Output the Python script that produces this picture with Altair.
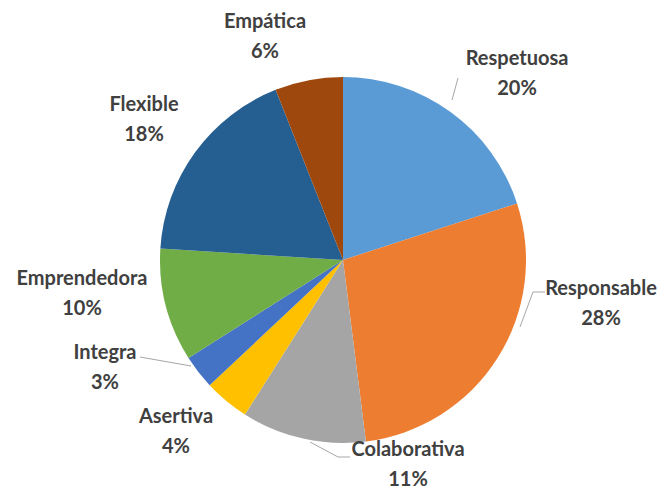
import altair as alt
import pandas as pd

# ---- data ----
categories = ["Respetuosa", "Responsable", "Colaborativa", "Asertiva",
              "Integra", "Emprendedora", "Flexible", "Empática"]
values = [20, 28, 11, 4, 3, 10, 18, 6]
colors = ["#5B9BD5", "#ED7D31", "#A5A5A5", "#FFC000",
          "#4472C4", "#70AD47", "#255E91", "#9E480E"]

# ---- layout (pixel offsets from the pie centre) ----
label_dx = [174, 258, 65, -167, -238, -261, -199, -78]
label_dy = [-188, 42, 203, 170, 106, 32, -142, -225]

leader_cat = ["Respetuosa", "Respetuosa",
              "Responsable", "Responsable", "Responsable",
              "Colaborativa", "Colaborativa", "Colaborativa",
              "Integra", "Integra"]
leader_seq = [0, 1, 0, 1, 2, 0, 1, 2, 0, 1]
leader_dx = [109, 115, 177, 190, 202, -33, -5, 7, -152, -203]
leader_dy = [-160, -182, 67, 32, 32, 182, 197, 197, 106, 97]

W, H = 649, 482
CX, CY = 335, 252
R = 183

pie_df = pd.DataFrame({
    "category": categories,
    "value": values,
    "order": list(range(len(categories))),
    "label": [f"{c}\n{v}%" for c, v in zip(categories, values)],
    "lx": label_dx,
    "ly": label_dy,
})
lead_df = pd.DataFrame({
    "category": leader_cat,
    "seq": leader_seq,
    "lx": leader_dx,
    "ly": leader_dy,
})

xs = alt.Scale(domain=[-CX, W - CX])
ys = alt.Scale(domain=[-CY, H - CY], reverse=True)

arcs = alt.Chart(pie_df).mark_arc(outerRadius=R).encode(
    theta=alt.Theta("value:Q", stack=True),
    color=alt.Color("category:N", scale=alt.Scale(domain=categories, range=colors), legend=None),
    order=alt.Order("order:Q"),
    x=alt.value(CX),
    y=alt.value(CY),
)

leaders = alt.Chart(lead_df).mark_line(color="#A6A6A6", strokeWidth=1).encode(
    x=alt.X("lx:Q", scale=xs, axis=None),
    y=alt.Y("ly:Q", scale=ys, axis=None),
    detail="category:N",
    order="seq:Q",
)

labels = alt.Chart(pie_df).mark_text(
    font="Lato", fontWeight="bold", fontSize=20, lineHeight=30, dy=-13,
    color="#404040", lineBreak="\n", align="center", baseline="middle",
).encode(
    x=alt.X("lx:Q", scale=xs, axis=None),
    y=alt.Y("ly:Q", scale=ys, axis=None),
    text="label:N",
)

chart = alt.layer(arcs, leaders, labels).properties(
    width=W, height=H, autosize=alt.AutoSizeParams(type="none"), padding=0,
    background="white",
).configure_view(stroke=None)

chart.save("out.html", embed_options={"renderer": "svg", "actions": False})
